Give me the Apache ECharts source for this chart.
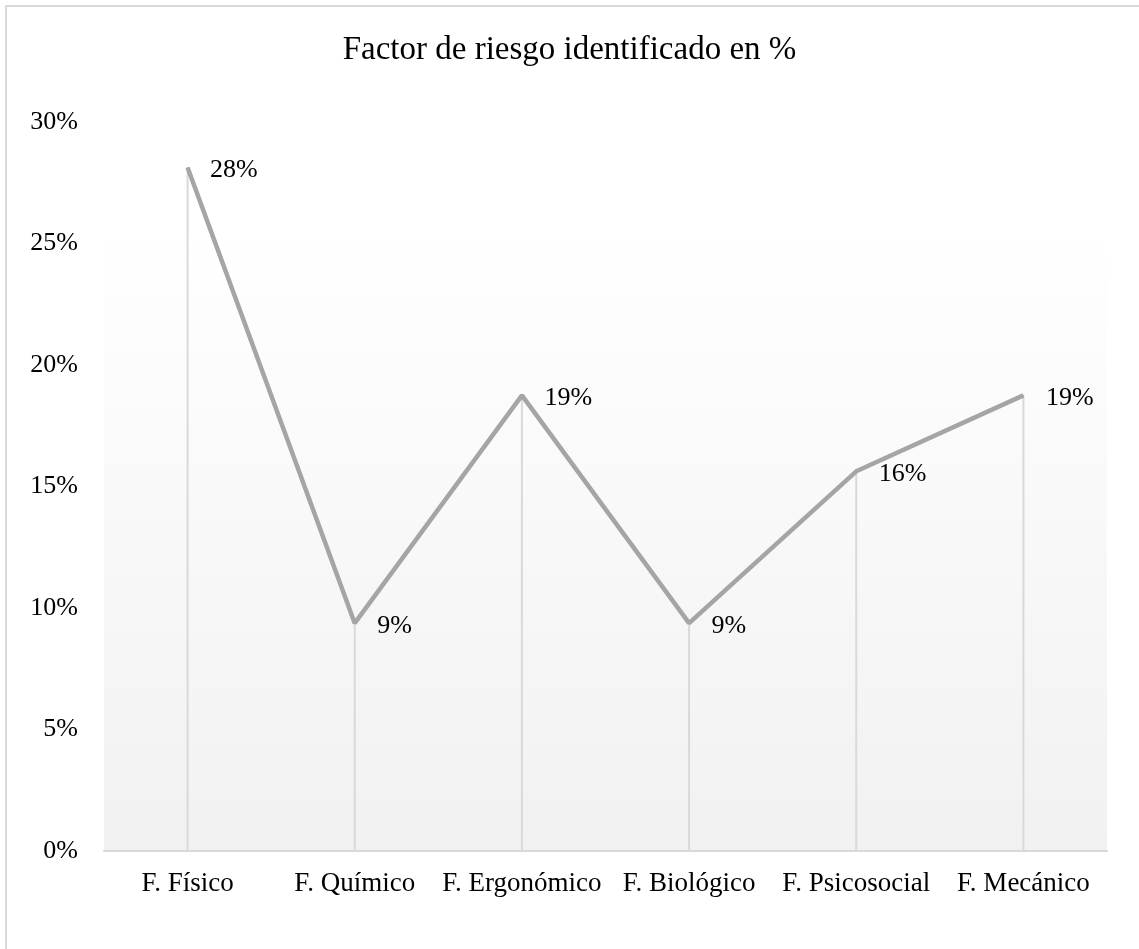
<!DOCTYPE html>
<html>
<head>
<meta charset="utf-8">
<script src="https://cdn.jsdelivr.net/npm/echarts@6/dist/echarts.min.js"></script>
<style>
  html, body { margin: 0; padding: 0; background: #fff; overflow: hidden; }
  #frame {
    position: absolute; left: 5px; top: 5px;
    width: 1200px; height: 1000px;
    border: 2px solid #d9d9d9; box-sizing: border-box;
  }
  #chart { position: absolute; left: 0; top: 0; width: 1139px; height: 949px; }
</style>
</head>
<body>
<div id="frame"></div>
<div id="chart"></div>
<script>
// datos
const categories = ["F. Físico", "F. Químico", "F. Ergonómico", "F. Biológico", "F. Psicosocial", "F. Mecánico"];
const riesgo = [28.125, 9.375, 18.75, 9.375, 15.625, 18.75];
const yTicks = { min: 0, max: 30, interval: 5 };

const fontFam = "'Liberation Serif', 'DejaVu Serif', serif";

let chart = echarts.init(document.getElementById("chart"));
let option = {
  animation: false,
  title: {
    text: "Factor de riesgo identificado en %",
    left: "center",
    top: 29,
    textStyle: { fontFamily: fontFam, fontSize: 33, fontWeight: "normal", color: "#000" }
  },
  grid: {
    left: 104,
    right: 32,
    top: 122,
    bottom: 98,
    show: true,
    borderWidth: 0,
    backgroundColor: new echarts.graphic.LinearGradient(0, 0, 0, 1, [
      { offset: 0, color: "#ffffff" },
      { offset: 0.15, color: "#ffffff" },
      { offset: 1, color: "#f1f1f1" }
    ])
  },
  xAxis: {
    type: "category",
    data: categories,
    boundaryGap: true,
    axisTick: { show: false },
    axisLine: { lineStyle: { color: "#d9d9d9", width: 2 } },
    axisLabel: { fontFamily: fontFam, fontSize: 27, color: "#000", margin: 19, interval: 0 }
  },
  yAxis: {
    type: "value",
    min: yTicks.min,
    max: yTicks.max,
    interval: yTicks.interval,
    axisLine: { show: false },
    axisTick: { show: false },
    splitLine: { show: false },
    axisLabel: {
      fontFamily: fontFam, fontSize: 26, color: "#000", margin: 26,
      formatter: "{value}%"
    }
  },
  series: [
    {
      // líneas de proyección
      type: "bar",
      data: riesgo,
      barWidth: 2,
      itemStyle: { color: "#d9d9d9" },
      silent: true,
      z: 1
    },
    {
      type: "line",
      data: riesgo,
      symbol: "circle",
      symbolSize: 1,
      lineStyle: { color: "#a5a5a5", width: 4.5 },
      itemStyle: { color: "#a5a5a5" },
      label: {
        show: true,
        position: "right",
        distance: 21,
        offset: [1, 3],
        fontFamily: fontFam,
        fontSize: 26,
        color: "#000",
        formatter: p => Math.round(p.value) + "%"
      },
      z: 3
    }
  ]
};
chart.setOption(option);
</script>
</body>
</html>
